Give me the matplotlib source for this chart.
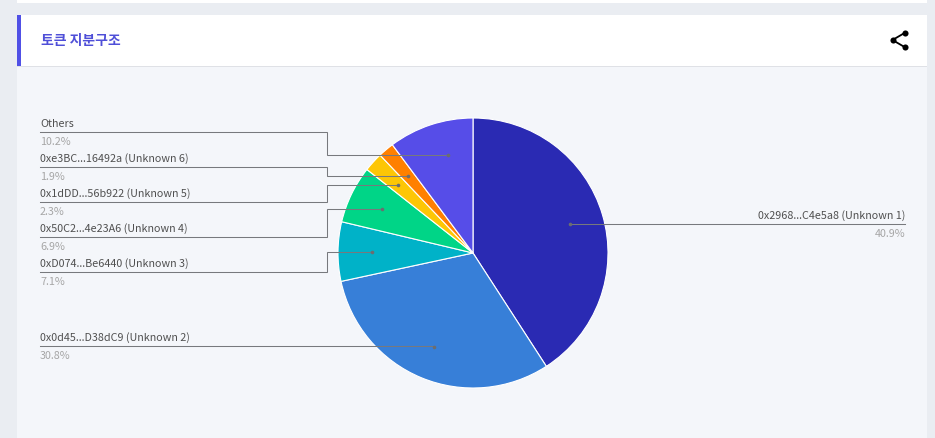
import numpy as np
import matplotlib
matplotlib.use("Agg")
import matplotlib.pyplot as plt
from matplotlib.patches import Rectangle

plt.rcParams['font.family'] = ['Noto Sans CJK KR', 'DejaVu Sans']

title = "토큰 지분구조"
names = ["0x2968...C4e5a8 (Unknown 1)", "0x0d45...D38dC9 (Unknown 2)", "0xD074...Be6440 (Unknown 3)",
         "0x50C2...4e23A6 (Unknown 4)", "0x1dDD...56b922 (Unknown 5)", "0xe3BC...16492a (Unknown 6)", "Others"]
shares = [40.9, 30.8, 7.1, 6.9, 2.3, 1.9, 10.2]
colors = ["#2a2ab3", "#377fd8", "#00b2c8", "#00d587", "#fdc605", "#ff8000", "#564de8"]
label_lines = [224, 346, 272, 237, 202, 167, 132]
anchor_fracs = [0.5, 0.5, 0.5, 0.5, 0.5, 0.5, 0.61]

W, H = 935, 438
fig = plt.figure(figsize=(W / 100, H / 100), dpi=100, facecolor="#eaedf2")
ax = fig.add_axes([0, 0, 1, 1])
Y = lambda p: H - p

ax.add_patch(Rectangle((17, 0), 910, H, fc="#f4f6fa", ec="none"))
ax.add_patch(Rectangle((17, Y(3)), 910, 3, fc="white", ec="none"))
ax.add_patch(Rectangle((17, Y(3)), 910, -12, fc="#eaedf2", ec="none"))
ax.add_patch(Rectangle((17, Y(66)), 910, 51, fc="white", ec="none"))
ax.add_patch(Rectangle((17, Y(67)), 910, 1, fc="#dfe1e6", ec="none"))
ax.add_patch(Rectangle((17, Y(66)), 4, 51, fc="#5050e6", ec="none"))
ax.text(41, Y(40.5), title, color="#4f4fd8", fontsize=10, fontweight="bold", va="center", ha="left")

# share icon
n1, n2, n3 = (904.5, Y(33)), (892.5, Y(40)), (904.5, Y(47))
ax.plot([n1[0], n2[0], n3[0]], [n1[1], n2[1], n3[1]], color="black", lw=1.3, solid_capstyle="round")
ax.plot([n1[0], n2[0], n3[0]], [n1[1], n2[1], n3[1]], "o", color="black", ms=4.4, mew=0)

cx, cy, r = 473, Y(253), 135
ax.pie(shares, colors=colors, startangle=90, counterclock=False, center=(cx, cy), radius=r,
       wedgeprops=dict(edgecolor="white", linewidth=0.8), frame=False)

total = sum(shares)
start = 0.0
line_col = "#77797d"
name_col = "#505050"
pct_col = "#a6a6a6"
fam = ['Noto Sans CJK KR', 'DejaVu Sans']
for name, s, ly, frac in zip(names, shares, label_lines, anchor_fracs):
    mid = (start + s * frac) / total * 2 * np.pi
    start += s
    ax_, ay_ = cx + 0.75 * r * np.sin(mid), cy + 0.75 * r * np.cos(mid)
    pct = f"{s:.1f}%"
    right = np.sin(mid) > 0
    ly_ = Y(ly)
    if right:
        xs, ys = [ax_, 905], [ay_, ay_]
        tx, ha = 905, "right"
    else:
        tx, ha = 40, "left"
        if ly == 346:
            xs, ys = [ax_, 40], [ly_, ly_]
        else:
            xs, ys = [ax_, 327, 327, 40], [ay_, ay_, ly_, ly_]
    ax.text(tx, ly_ + 8.2, name, fontsize=7.75, color=name_col, ha=ha, va="center", family=fam)
    ax.text(tx, ly_ - 10.3, pct, fontsize=7.75, color=pct_col, ha=ha, va="center", family=fam)
    ax.plot(xs, ys, color=line_col, lw=0.75, solid_joinstyle="miter", zorder=5)
    ax.plot([ax_], [ay_], "o", color="#6b6d70", ms=2.6, mew=0, zorder=6)

ax.set_xlim(0, W)
ax.set_ylim(0, H)
ax.set_axis_off()
fig.savefig("out.png", dpi=100, facecolor=fig.get_facecolor())
